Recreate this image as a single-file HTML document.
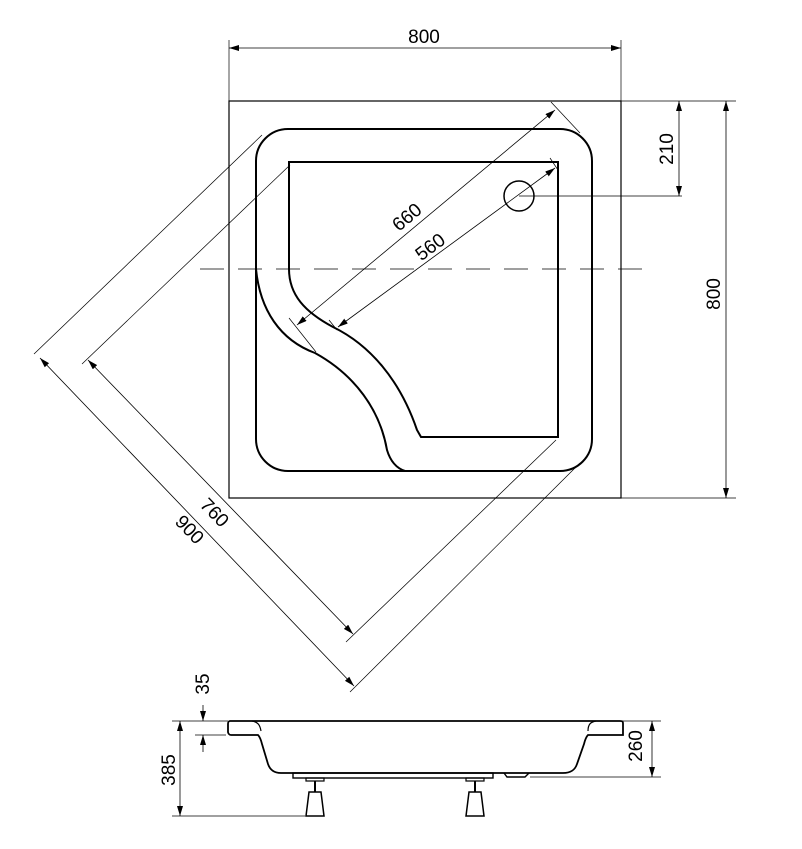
<!DOCTYPE html>
<html><head><style>html,body{margin:0;padding:0;background:#fff}svg{display:block}text{font-family:"Liberation Sans",Arial,sans-serif;font-size:19px}</style></head><body>
<svg width="802" height="849" viewBox="0 0 802 849" xmlns="http://www.w3.org/2000/svg">
<defs>
<marker id="a" viewBox="0 0 10 6" refX="10" refY="3" markerWidth="10" markerHeight="6" orient="auto-start-reverse" markerUnits="userSpaceOnUse"><path d="M0,0 L10,3 L0,6z" fill="#000"/></marker>
</defs>
<g fill="none" stroke="#000">
<rect x="229" y="101" width="392" height="397" stroke-width="1.2"/>
<rect x="256" y="129" width="336" height="342" rx="32" stroke-width="2"/>
<path d="M289,269 L289,162 L558,162 L558,437 L421,437 L417,430 C400,380 370,345 333,327 C305,312 289,295 289,269" stroke-width="2"/>
<path d="M256,269 C260,310 280,340 315,353 C355,375 380,410 387,450 C390,460 396,468 405,471" stroke-width="2"/>
<circle cx="519" cy="196" r="15" stroke-width="1.5"/>
<line x1="519" y1="196" x2="682" y2="196" stroke-width="0.8"/>
<line x1="200" y1="269" x2="652" y2="269" stroke-width="0.8" stroke-dasharray="24,14"/>
<line x1="297" y1="325" x2="555" y2="110" stroke-width="0.8" marker-start="url(#a)" marker-end="url(#a)"/>
<line x1="551" y1="102" x2="580" y2="133" stroke-width="0.7"/>
<line x1="289" y1="318" x2="316" y2="352" stroke-width="0.7"/>
<line x1="338" y1="327" x2="555" y2="168" stroke-width="0.8" marker-start="url(#a)" marker-end="url(#a)"/>
<line x1="550" y1="158" x2="558" y2="170" stroke-width="0.7"/>
<line x1="329" y1="320" x2="337" y2="330" stroke-width="0.7"/>
<line x1="88" y1="360" x2="353" y2="634" stroke-width="0.8" marker-start="url(#a)" marker-end="url(#a)"/>
<line x1="40" y1="358" x2="354" y2="686" stroke-width="0.8" marker-start="url(#a)" marker-end="url(#a)"/>
<line x1="290" y1="165" x2="82" y2="364" stroke-width="0.7"/>
<line x1="262" y1="135" x2="34" y2="354" stroke-width="0.7"/>
<line x1="556" y1="440" x2="346" y2="642" stroke-width="0.7"/>
<line x1="580" y1="463" x2="350" y2="692" stroke-width="0.7"/>
<line x1="229" y1="40" x2="229" y2="101" stroke-width="0.7"/>
<line x1="621" y1="40" x2="621" y2="101" stroke-width="0.7"/>
<line x1="229" y1="48" x2="621" y2="48" stroke-width="0.8" marker-start="url(#a)" marker-end="url(#a)"/>
<line x1="621" y1="101" x2="736" y2="101" stroke-width="0.7"/>
<line x1="621" y1="498" x2="736" y2="498" stroke-width="0.7"/>
<line x1="726" y1="101" x2="726" y2="498" stroke-width="0.8" marker-start="url(#a)" marker-end="url(#a)"/>
<line x1="679" y1="101" x2="679" y2="196" stroke-width="0.8" marker-start="url(#a)" marker-end="url(#a)"/>
<path d="M230,721 L620,721 C623,721 623,722 623,724 L623,735 L588,735 C586,737 585,740 584,744 L577,764 C575,770 571,773 563,773 L281,773 C274,773 270,770 268,764 L262,744 C261,740 260,737 258,735 L231,735 C229,735 228,733 228,732 L228,724 C228,722 229,721 230,721 Z" stroke-width="1.8"/>
<path d="M252,721 C258,722 260,725 261,731" stroke-width="1.2"/>
<path d="M596,721 C590,722 588,725 588,731" stroke-width="1.2"/>
<rect x="293" y="773" width="200" height="5" stroke-width="1.4"/>
<path d="M504,773 L507,777 L525,777 L529,773" stroke-width="1.4"/>
<rect x="306" y="778" width="18" height="3" stroke-width="1.2"/>
<rect x="466" y="778" width="18" height="3" stroke-width="1.2"/>
<line x1="315" y1="781" x2="315" y2="792" stroke-width="2"/>
<line x1="475" y1="781" x2="475" y2="792" stroke-width="2"/>
<path d="M309,792 L321,792 L324,816 L306,816 Z" stroke-width="1.5"/>
<path d="M469,792 L481,792 L484,816 L466,816 Z" stroke-width="1.5"/>
<line x1="172" y1="721" x2="228" y2="721" stroke-width="0.7"/>
<line x1="172" y1="816" x2="305" y2="816" stroke-width="0.7"/>
<line x1="180" y1="721" x2="180" y2="816" stroke-width="0.8" marker-start="url(#a)" marker-end="url(#a)"/>
<line x1="195" y1="735" x2="226" y2="735" stroke-width="0.7"/>
<line x1="203" y1="705" x2="203" y2="721" stroke-width="0.8" marker-end="url(#a)"/>
<line x1="203" y1="752" x2="203" y2="735" stroke-width="0.8" marker-end="url(#a)"/>
<line x1="622" y1="721" x2="661" y2="721" stroke-width="0.7"/>
<line x1="530" y1="777" x2="661" y2="777" stroke-width="0.7"/>
<line x1="652" y1="721" x2="652" y2="777" stroke-width="0.8" marker-start="url(#a)" marker-end="url(#a)"/>
</g>
<g fill="#000">
<text x="424" y="43" text-anchor="middle">800</text>
<text transform="translate(720,294) rotate(-90)" text-anchor="middle">800</text>
<text transform="translate(673,149) rotate(-90)" text-anchor="middle">210</text>
<text transform="translate(411,222) rotate(-40)" text-anchor="middle">660</text>
<text transform="translate(434,252) rotate(-37)" text-anchor="middle">560</text>
<text transform="translate(210,517) rotate(46)" text-anchor="middle">760</text>
<text transform="translate(185,534) rotate(46)" text-anchor="middle">900</text>
<text transform="translate(209,684) rotate(-90)" text-anchor="middle">35</text>
<text transform="translate(175,770) rotate(-90)" text-anchor="middle">385</text>
<text transform="translate(642,746) rotate(-90)" text-anchor="middle">260</text>
</g>
</svg>
</body></html>
